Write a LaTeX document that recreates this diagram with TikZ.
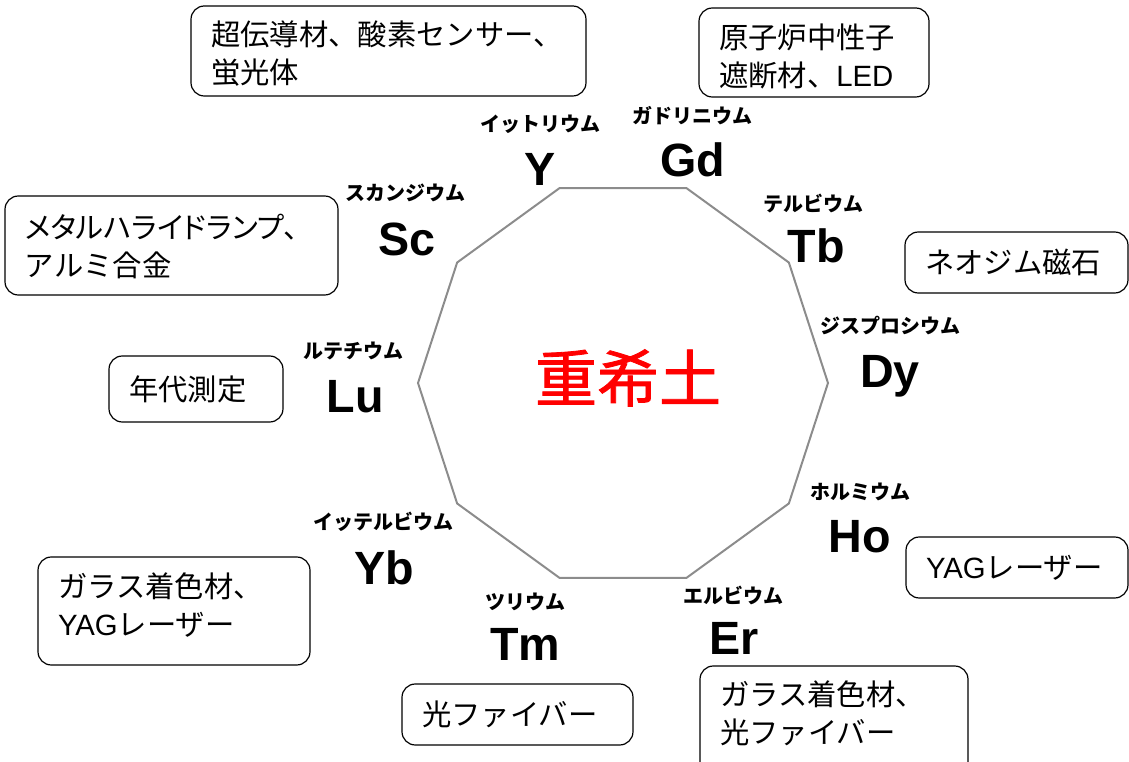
\documentclass[tikz,border=0pt]{standalone}
\usepackage{fontspec}
\setmainfont{Liberation Sans}
\newfontfamily\jp{Noto Sans CJK JP}
\newfontfamily\jpp{Noto Sans CJK JP}[RawFeature=+palt]
\newfontfamily\jpfb{Noto Sans CJK JP}[AutoFakeBold=1.3]
\newcommand\latn[1]{{\rmfamily #1}}
\newcommand\shiftlines[2]{\raisebox{#1}[\height][\depth]{\begin{tabular}{@{}l@{}}#2\end{tabular}}}
\begin{document}
\begin{tikzpicture}[x=0.75pt,y=-0.75pt,
  usebox/.style={draw=black, line width=0.9pt, rounded corners=10pt, inner xsep=15pt, inner ysep=0pt, align=left, font=\jp\fontsize{22}{28.5}\selectfont},
  kana/.style={inner sep=0pt, font=\jp\bfseries\fontsize{15}{16}\selectfont},
  sym/.style={inner sep=0pt, anchor=base, font=\bfseries\fontsize{35}{40}\selectfont},
  ring/.style={draw=black!45, line width=1.5pt, line join=miter},
  title/.style={inner sep=0pt, text=red, font=\jpfb\bfseries\fontsize{46.5}{50}\selectfont}]
\useasboundingbox (0,0) rectangle (1129,762);

% decagon
\draw[ring, shift={(623,383)}] (0:205) -- (36:205) -- (72:205) -- (108:205) -- (144:205) -- (180:205) -- (216:205) -- (252:205) -- (288:205) -- (324:205) -- cycle;

\node[title] (heavy) at (628,378) {重希土};

% element labels
\node[kana] (yk) at (540,124) {イットリウム};
\node[sym] (y) at (540,186) {Y};
\node[kana] (gdk) at (692,116) {ガドリニウム};
\node[sym] (gd) at (693,177) {Gd};
\node[kana] (sck) at (405,193) {スカンジウム};
\node[sym] (sc) at (407,256) {Sc};
\node[kana] (tbk) at (813,204) {テルビウム};
\node[sym] (tb) at (816,263) {Tb};
\node[kana] (dyk) at (890,326) {ジスプロシウム};
\node[sym] (dy) at (890,388) {Dy};
\node[kana] (luk) at (353,351) {ルテチウム};
\node[sym] (lu) at (355,413) {Lu};
\node[kana] (hok) at (860,492) {ホルミウム};
\node[sym] (ho) at (860,553) {Ho};
\node[kana] (ybk) at (383,522) {イッテルビウム};
\node[sym] (yb) at (384,585) {Yb};
\node[kana] (tmk) at (525,602) {ツリウム};
\node[sym] (tm) at (525,661) {Tm};
\node[kana] (erk) at (733,595) {エルビウム};
\node[sym] (er) at (734,655) {Er};

% use boxes
\node[usebox, text width=266.25pt, minimum height=67.5pt] (b1) at (388.5,51) {\shiftlines{-4.5pt}{超伝導材、酸素センサー、\\蛍光体}};
\node[usebox, text width=142.5pt, minimum height=66.75pt] (b2) at (814,52.5) {\shiftlines{-5.25pt}{原子炉中性子\\遮断材、\latn{LED}}};
\node[usebox, text width=219.75pt, minimum height=74.25pt] (b3) at (171.5,245.5) {\shiftlines{-3pt}{{\jpp メタルハライドランプ}、\\アルミ合金}};
\node[usebox, text width=137.25pt, minimum height=45.75pt] (b4) at (1016.5,262.5) {ネオジム磁石};
\node[usebox, text width=100.5pt, minimum height=49.5pt] (b5) at (196,389) {年代測定};
\node[usebox, text width=136.5pt, minimum height=45.75pt] (b6) at (1017,567.5) {\latn{YAG}レーザー};
\node[usebox, text width=174pt, minimum height=81pt] (b7) at (174,611) {\shiftlines{1.5pt}{ガラス着色材、\\\latn{YAG}レーザー}};
\node[usebox, text width=143.25pt, minimum height=45.75pt] (b8) at (517.5,714.5) {光ファイバー};
\node[usebox, text width=171pt, minimum height=81.75pt] (b9) at (834,720.5) {\shiftlines{3pt}{ガラス着色材、\\光ファイバー}};
\end{tikzpicture}
\end{document}
